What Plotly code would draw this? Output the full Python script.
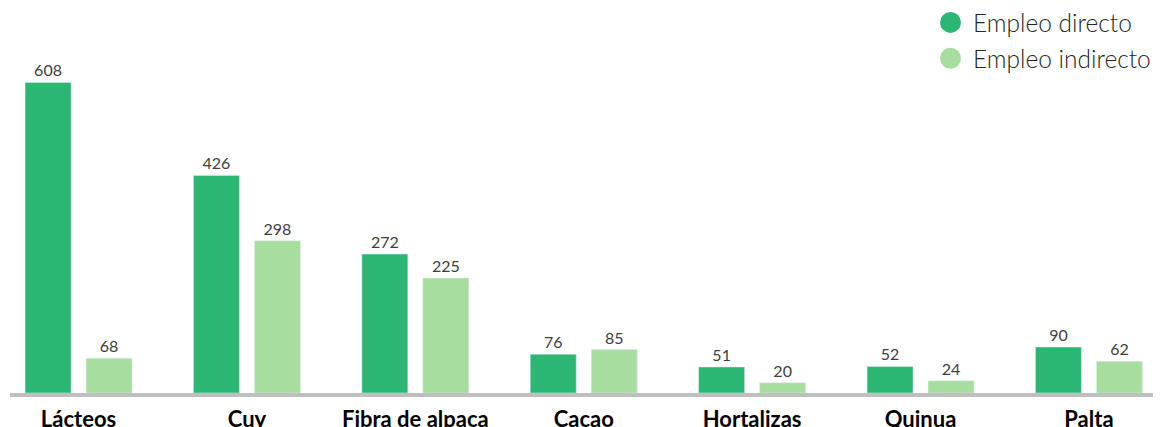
import plotly.graph_objects as go

categories = ["Lácteos", "Cuy", "Fibra de alpaca", "Cacao", "Hortalizas", "Quinua", "Palta"]
empleo_directo = [608, 426, 272, 76, 51, 52, 90]
empleo_indirecto = [68, 298, 225, 85, 20, 24, 62]
series_names = ["Empleo directo", "Empleo indirecto"]

dark = "#2BB673"
light = "#A8DDA0"

# page body has an 8px default margin; figure coordinates are offset accordingly
W, H = 1153, 419
L, R = 2, 1152
T, B = 53, 385

fig = go.Figure()
for name, vals, col in [(series_names[0], empleo_directo, dark), (series_names[1], empleo_indirecto, light)]:
    fig.add_trace(go.Bar(
        x=categories, y=vals, name=name, marker_color=col, showlegend=False,
        text=[str(v) for v in vals], textposition="outside", cliponaxis=False,
        textfont=dict(family="Lato", size=16, color="#404040"),
    ))
for name, col, grp in [(series_names[0], dark, "a"), (series_names[1], light, "b")]:
    fig.add_trace(go.Scatter(
        x=[None], y=[None], mode="markers", name=name, legendgroup=grp,
        marker=dict(symbol="circle", size=22, color=col, line=dict(color=col, width=5)),
    ))

fig.update_layout(
    width=W, height=H,
    margin=dict(l=L, r=W - R, t=T, b=H - B, pad=0, autoexpand=False),
    paper_bgcolor="white", plot_bgcolor="white",
    barmode="group", bargap=0.2755, bargroupgap=0.246,
    legend=dict(
        x=(920 - L) / (R - L), y=(B + 8) / (B - T), xanchor="left", yanchor="top",
        font=dict(family="Lato", size=24.5, color="#262626", weight=300),
        tracegroupgap=1, bgcolor="rgba(0,0,0,0)", itemwidth=35,
    ),
    xaxis=dict(
        range=[-0.407, 6.422], showgrid=False, zeroline=False, automargin=False,
        showline=True, linecolor="#BFBFBF", linewidth=4,
        tickfont=dict(family="Lato", size=22, color="#000000", weight="bold"),
        ticks="", ticklabelstandoff=4,
    ),
    yaxis=dict(range=[0, 650], visible=False, showgrid=False, zeroline=False, automargin=False),
)

fig.write_html("out.html")
